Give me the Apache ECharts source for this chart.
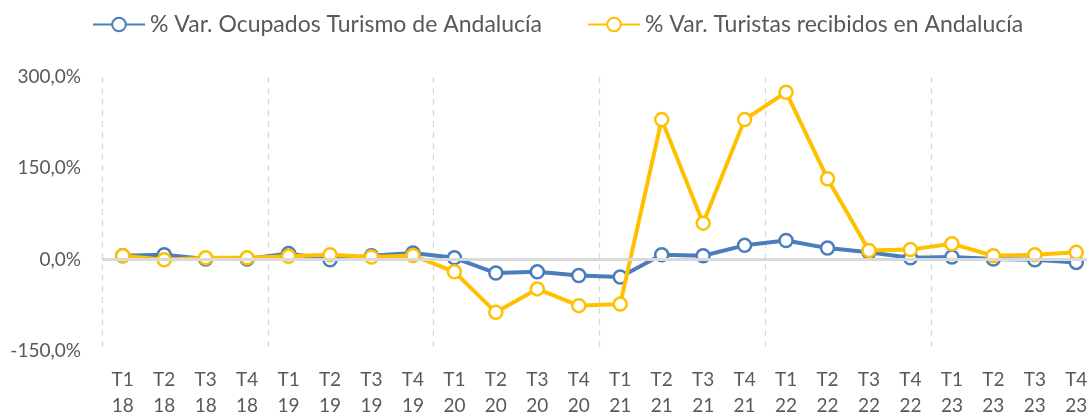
<!DOCTYPE html>
<html lang="es">
<head>
    <meta charset="UTF-8">
    <title>Ocupados y turistas</title>
    <script src="https://cdn.jsdelivr.net/npm/echarts@6/dist/echarts.min.js"></script>
    <style>
        html, body { margin: 0; padding: 0; background: #fff; overflow: hidden; }
        /* el gráfico sigue un poco más allá del borde derecho */
        #main { width: 1097px; height: 415px; }
    </style>
</head>
<body>
<div id="main"></div>
<script type="text/javascript">
    // trimestres
    var quarters = ['T1', 'T2', 'T3', 'T4', 'T1', 'T2', 'T3', 'T4', 'T1', 'T2', 'T3', 'T4',
        'T1', 'T2', 'T3', 'T4', 'T1', 'T2', 'T3', 'T4', 'T1', 'T2', 'T3', 'T4'];
    var years = ['18', '18', '18', '18', '19', '19', '19', '19', '20', '20', '20', '20',
        '21', '21', '21', '21', '22', '22', '22', '22', '23', '23', '23', '23'];

    var ocupados = [6.5, 8, 1, 1, 10, 0, 6.5, 11, 3, -22, -20, -26,
        -28.5, 8, 6.5, 23.5, 31.5, 19, 12, 3, 4.5, 1, 0, -4.5];
    var turistas = [6.5, 0, 3, 3, 5.5, 8, 4.5, 7, -20, -86.5, -48, -75.5,
        -73, 230, 60, 230, 275, 133, 15, 16.5, 26, 6.5, 8, 12];

    var yTicks = [-150, 0, 150, 300];

    var categories = quarters.map(function (q, i) { return q + '\n' + years[i]; });

    var fontName = 'Lato';
    var textColor = '#595959';

    var myChart = echarts.init(document.getElementById('main'));

    function lineSeries(name, data, color, z) {
        return {
            name: name,
            type: 'line',
            data: data,
            z: z,
            symbol: 'circle',
            symbolSize: 13,
            showAllSymbol: true,
            lineStyle: { color: color, width: 4 },
            itemStyle: { color: '#ffffff', borderColor: color, borderWidth: 2.5 }
        };
    }

    var option = {
        animation: false,
        textStyle: { fontFamily: fontName },
        legend: {
            left: 87,
            top: 8,
            itemWidth: 52,
            itemHeight: 17,
            itemGap: 45,
            textStyle: { fontFamily: fontName, fontSize: 23, color: textColor },
            data: ['% Var. Ocupados Turismo de Andalucía', '% Var. Turistas recibidos en Andalucía']
        },
        grid: {
            left: 102,
            right: 0,
            top: 77,
            bottom: 64,
            containLabel: false,
            outerBoundsMode: 'none'
        },
        xAxis: {
            type: 'category',
            data: categories,
            boundaryGap: true,
            axisLine: { show: false },
            axisTick: { show: false },
            axisLabel: {
                interval: 0,
                margin: 16,
                fontFamily: fontName,
                fontSize: 19,
                lineHeight: 26,
                color: textColor
            },
            splitLine: {
                show: true,
                interval: function (index) { return index % 4 === 0; },
                lineStyle: { color: '#d9d9d9', type: [6, 5], width: 1.3 }
            }
        },
        yAxis: {
            type: 'value',
            min: yTicks[0],
            max: yTicks[yTicks.length - 1],
            interval: 150,
            axisLine: { show: false },
            axisTick: { show: false },
            splitLine: { show: false },
            axisLabel: {
                margin: 21,
                fontFamily: fontName,
                fontSize: 19,
                color: textColor,
                formatter: function (v) { return v.toFixed(1).replace('.', ',') + '%'; }
            }
        },
        series: [
            {
                name: 'cero',
                type: 'line',
                data: [],
                z: 1,
                markLine: {
                    silent: true,
                    symbol: 'none',
                    label: { show: false },
                    lineStyle: { color: '#d9d9d9', type: 'solid', width: 3 },
                    data: [{ yAxis: 0 }]
                }
            },
            lineSeries('% Var. Ocupados Turismo de Andalucía', ocupados, '#4a7ebb', 3),
            lineSeries('% Var. Turistas recibidos en Andalucía', turistas, '#ffc000', 4)
        ]
    };

    myChart.setOption(option);
</script>
</body>
</html>
